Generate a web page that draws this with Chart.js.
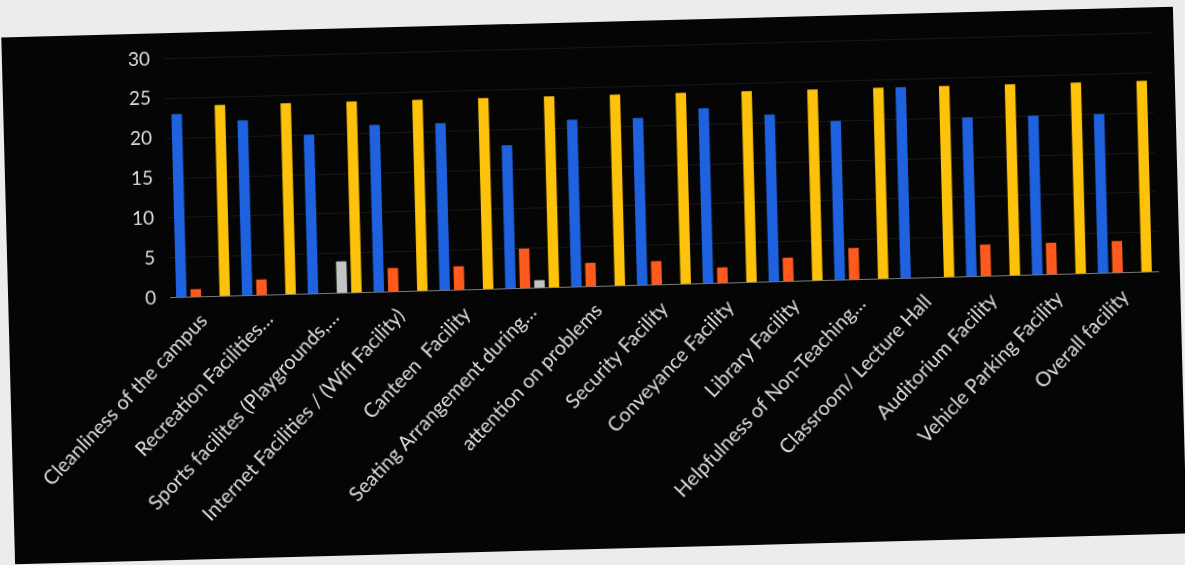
<!DOCTYPE html>
<html>
<head>
<meta charset="utf-8">
<script src="https://cdn.jsdelivr.net/npm/chart.js@4.4.1/dist/chart.umd.min.js"></script>
<style>
  html, body { margin: 0; padding: 0; }
  body { width: 1185px; height: 565px; background: #ececec; overflow: hidden; position: relative; }
  #panel {
    position: absolute; left: 8px; top: 22px; width: 1172px; height: 527px;
    background: #050505; transform: rotate(-1.5deg); transform-origin: 50% 50%;
  }
  #chart { display: block; }
</style>
</head>
<body>
<div id="panel"><canvas id="chart" width="1172" height="527"></canvas></div>
<script>
const categories = [
  'Cleanliness of the campus',
  'Recreation Facilities…',
  'Sports facilites (Playgrounds,…',
  'Internet Facilities / (Wifi Facility)',
  'Canteen  Facility',
  'Seating Arrangement during…',
  'attention on problems',
  'Security Facility',
  'Conveyance Facility',
  'Library Facility',
  'Helpfulness of Non-Teaching…',
  'Classroom/ Lecture Hall',
  'Auditorium Facility',
  'Vehicle Parking Facility',
  'Overall facility'
];

// four response groups per item (legend not shown in the picture)
const blueValues   = [23, 22, 20, 21, 21, 18, 21, 21, 22, 21, 20, 24, 20, 20, 20];
const orangeValues = [1, 2, 0, 3, 3, 5, 3, 3, 2, 3, 4, 0, 4, 4, 4];
const grayValues   = [0, 0, 4, 0, 0, 1, 0, 0, 0, 0, 0, 0, 0, 0, 0];
const yellowValues = [24, 24, 24, 24, 24, 24, 24, 24, 24, 24, 24, 24, 24, 24, 24];

const yTicks = [0, 5, 10, 15, 20, 25, 30];

const labelColor = '#dcdcdc';
const barPct = 0.72;
const catPct = 0.88;

function series(label, data, color) {
    return {
        label,
        data,
        backgroundColor: color,
        borderWidth: 0,
        barPercentage: barPct,
        categoryPercentage: catPct
    };
}

new Chart(document.getElementById('chart'), {
    type: 'bar',
    data: {
        labels: categories,
        datasets: [
            series('Series 1', blueValues, '#1f62e0'),
            series('Series 2', orangeValues, '#ff5a1e'),
            series('Series 3', grayValues, '#c4c4c4'),
            series('Series 4', yellowValues, '#ffc20a')
        ]
    },
    options: {
        responsive: false,
        animation: false,
        layout: { padding: { top: 18, left: 112, right: 22, bottom: 29 } },
        plugins: {
            legend: { display: false },
            tooltip: { enabled: false }
        },
        scales: {
            y: {
                min: yTicks[0],
                max: yTicks[yTicks.length - 1],
                afterBuildTicks: axis => { axis.ticks = yTicks.map(v => ({ value: v })); },
                grid: { color: 'rgba(255,255,255,0.07)', drawTicks: false },
                border: { display: false },
                ticks: { color: labelColor, padding: 14, font: { family: 'Lato', size: 19 } }
            },
            x: {
                grid: { display: false },
                border: { display: true, color: '#7a7a7a', width: 1 },
                ticks: {
                    color: labelColor,
                    autoSkip: false,
                    minRotation: 45,
                    maxRotation: 45,
                    padding: 4,
                    font: { family: 'Lato', size: 20 }
                }
            }
        }
    }
});
</script>
</body>
</html>
